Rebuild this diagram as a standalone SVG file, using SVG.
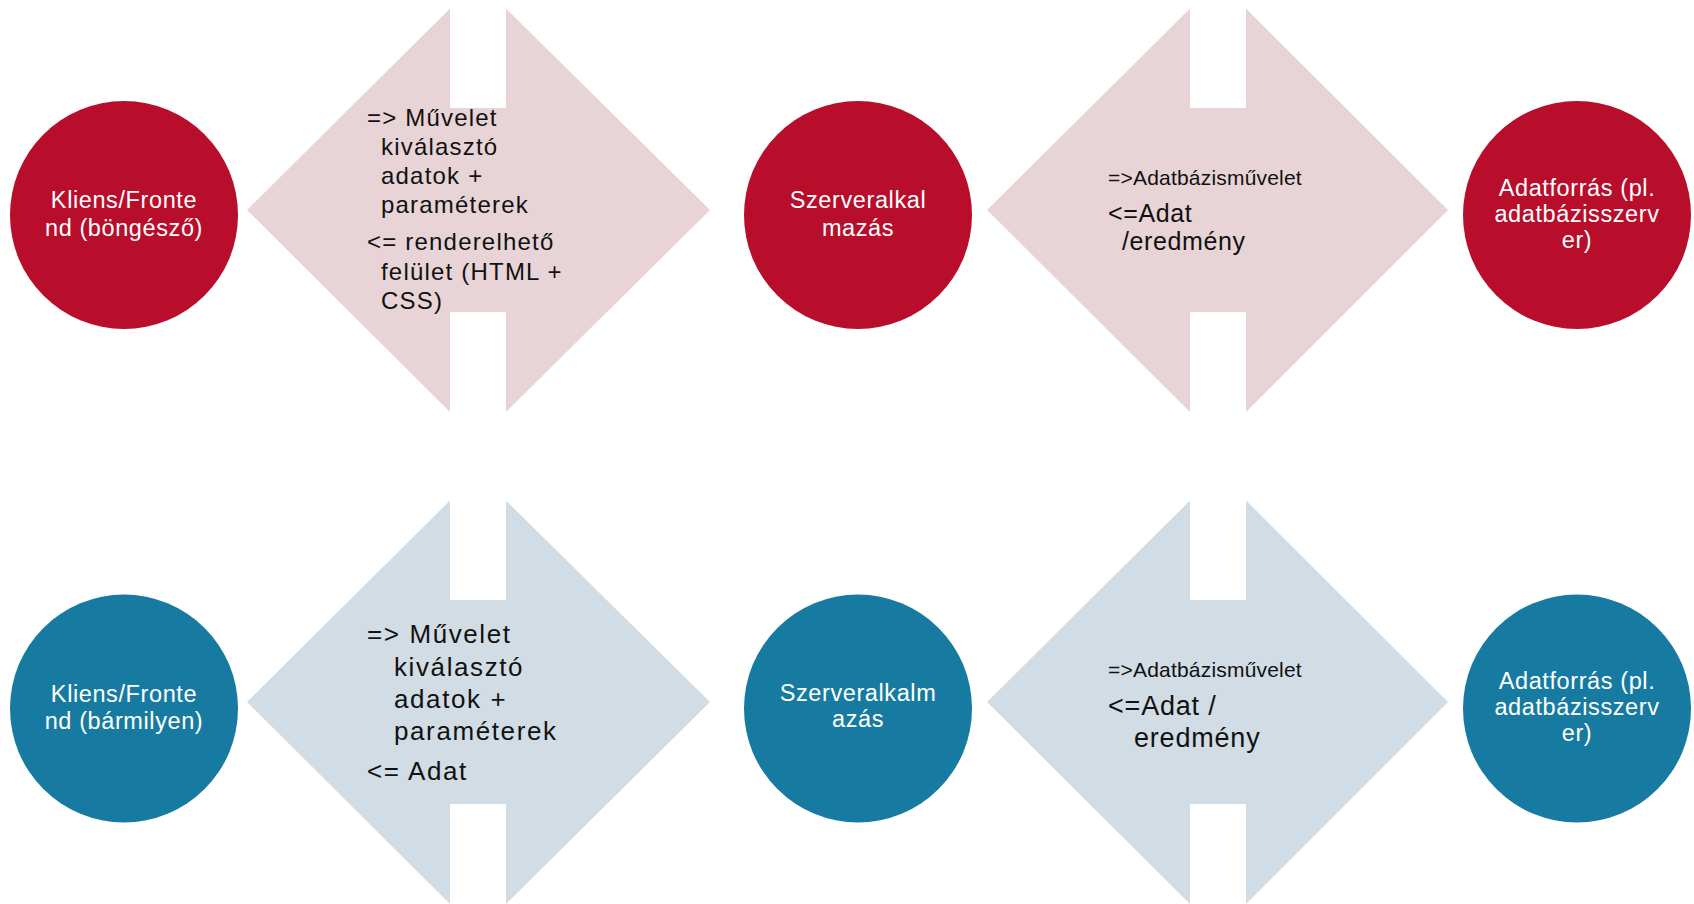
<svg xmlns="http://www.w3.org/2000/svg" width="1694" height="904" viewBox="0 0 1694 904">
<style>
.red{fill:#B80E2B}
.blue{fill:#177BA1}
.pink{fill:#E8D4D6}
.lblue{fill:#D1DCE4}
.ct{font-family:"Liberation Sans",Arial,sans-serif;font-size:23.5px;fill:#FFFFFF;text-anchor:middle;letter-spacing:0.6px}
.at{font-family:"Liberation Sans",Arial,sans-serif;font-size:24px;fill:#111111;letter-spacing:1.2px}
.at2{font-family:"Liberation Sans",Arial,sans-serif;font-size:26px;fill:#111111;letter-spacing:1.6px}
.sm{font-family:"Liberation Sans",Arial,sans-serif;font-size:21px;fill:#111111;letter-spacing:0.2px}
.md{font-family:"Liberation Sans",Arial,sans-serif;font-size:25px;fill:#111111;letter-spacing:0.6px}
.lg{font-family:"Liberation Sans",Arial,sans-serif;font-size:27px;fill:#111111;letter-spacing:0.8px}
</style>
<rect width="1694" height="904" fill="#FFFFFF"/>
<g id="connectors">
  <g id="arrow-top-1">
    <path class="pink" d="M247,210 L450,8.5 L450,108 L506,108 L506,8.5 L710,210 L506,412 L506,312 L450,312 L450,412 Z"/>
    <text class="at" x="367" y="126">=&gt; Művelet</text>
    <text class="at" x="381" y="155">kiválasztó</text>
    <text class="at" x="381" y="184">adatok +</text>
    <text class="at" x="381" y="213">paraméterek</text>
    <text class="at" x="367" y="250">&lt;= renderelhető</text>
    <text class="at" x="381" y="280">felület (HTML +</text>
    <text class="at" x="381" y="309">CSS)</text>
  </g>
  <g id="arrow-top-2">
    <path class="pink" d="M987,210 L1190,8.5 L1190,108 L1246,108 L1246,8.5 L1448,210 L1246,412 L1246,312 L1190,312 L1190,412 Z"/>
    <text class="sm" x="1108" y="185">=&gt;Adatbázisművelet</text>
    <text class="md" x="1108" y="222">&lt;=Adat</text>
    <text class="md" x="1122" y="250">/eredmény</text>
  </g>
  <g id="arrow-bottom-1">
    <path class="lblue" d="M247,702 L450,500.5 L450,600 L506,600 L506,500.5 L710,702 L506,904 L506,804 L450,804 L450,904 Z"/>
    <text class="at2" x="367" y="643">=&gt; Művelet</text>
    <text class="at2" x="394" y="676">kiválasztó</text>
    <text class="at2" x="394" y="708">adatok +</text>
    <text class="at2" x="394" y="740">paraméterek</text>
    <text class="at2" x="367" y="780">&lt;= Adat</text>
  </g>
  <g id="arrow-bottom-2">
    <path class="lblue" d="M987,702 L1190,500.5 L1190,600 L1246,600 L1246,500.5 L1448,702 L1246,904 L1246,804 L1190,804 L1190,904 Z"/>
    <text class="sm" x="1108" y="677">=&gt;Adatbázisművelet</text>
    <text class="lg" x="1108" y="715">&lt;=Adat /</text>
    <text class="lg" x="1134" y="747">eredmény</text>
  </g>
</g>
<g id="node-kliens-bongeszo">
  <circle class="red" cx="124" cy="215" r="114"/>
  <text class="ct" x="124" y="208">Kliens/Fronte</text>
  <text class="ct" x="124" y="236">nd (böngésző)</text>
</g>
<g id="node-szerver-top">
  <circle class="red" cx="858" cy="215" r="114"/>
  <text class="ct" x="858" y="208">Szerveralkal</text>
  <text class="ct" x="858" y="236">mazás</text>
</g>
<g id="node-adatforras-top">
  <circle class="red" cx="1577" cy="215" r="114"/>
  <text class="ct" x="1577" y="196">Adatforrás (pl.</text>
  <text class="ct" x="1577" y="222">adatbázisszerv</text>
  <text class="ct" x="1577" y="248">er)</text>
</g>
<g id="node-kliens-barmilyen">
  <circle class="blue" cx="124" cy="708.5" r="114"/>
  <text class="ct" x="124" y="702">Kliens/Fronte</text>
  <text class="ct" x="124" y="729">nd (bármilyen)</text>
</g>
<g id="node-szerver-bottom">
  <circle class="blue" cx="858" cy="708.5" r="114"/>
  <text class="ct" x="858" y="701">Szerveralkalm</text>
  <text class="ct" x="858" y="727">azás</text>
</g>
<g id="node-adatforras-bottom">
  <circle class="blue" cx="1577" cy="708.5" r="114"/>
  <text class="ct" x="1577" y="689">Adatforrás (pl.</text>
  <text class="ct" x="1577" y="715">adatbázisszerv</text>
  <text class="ct" x="1577" y="741">er)</text>
</g>
</svg>
